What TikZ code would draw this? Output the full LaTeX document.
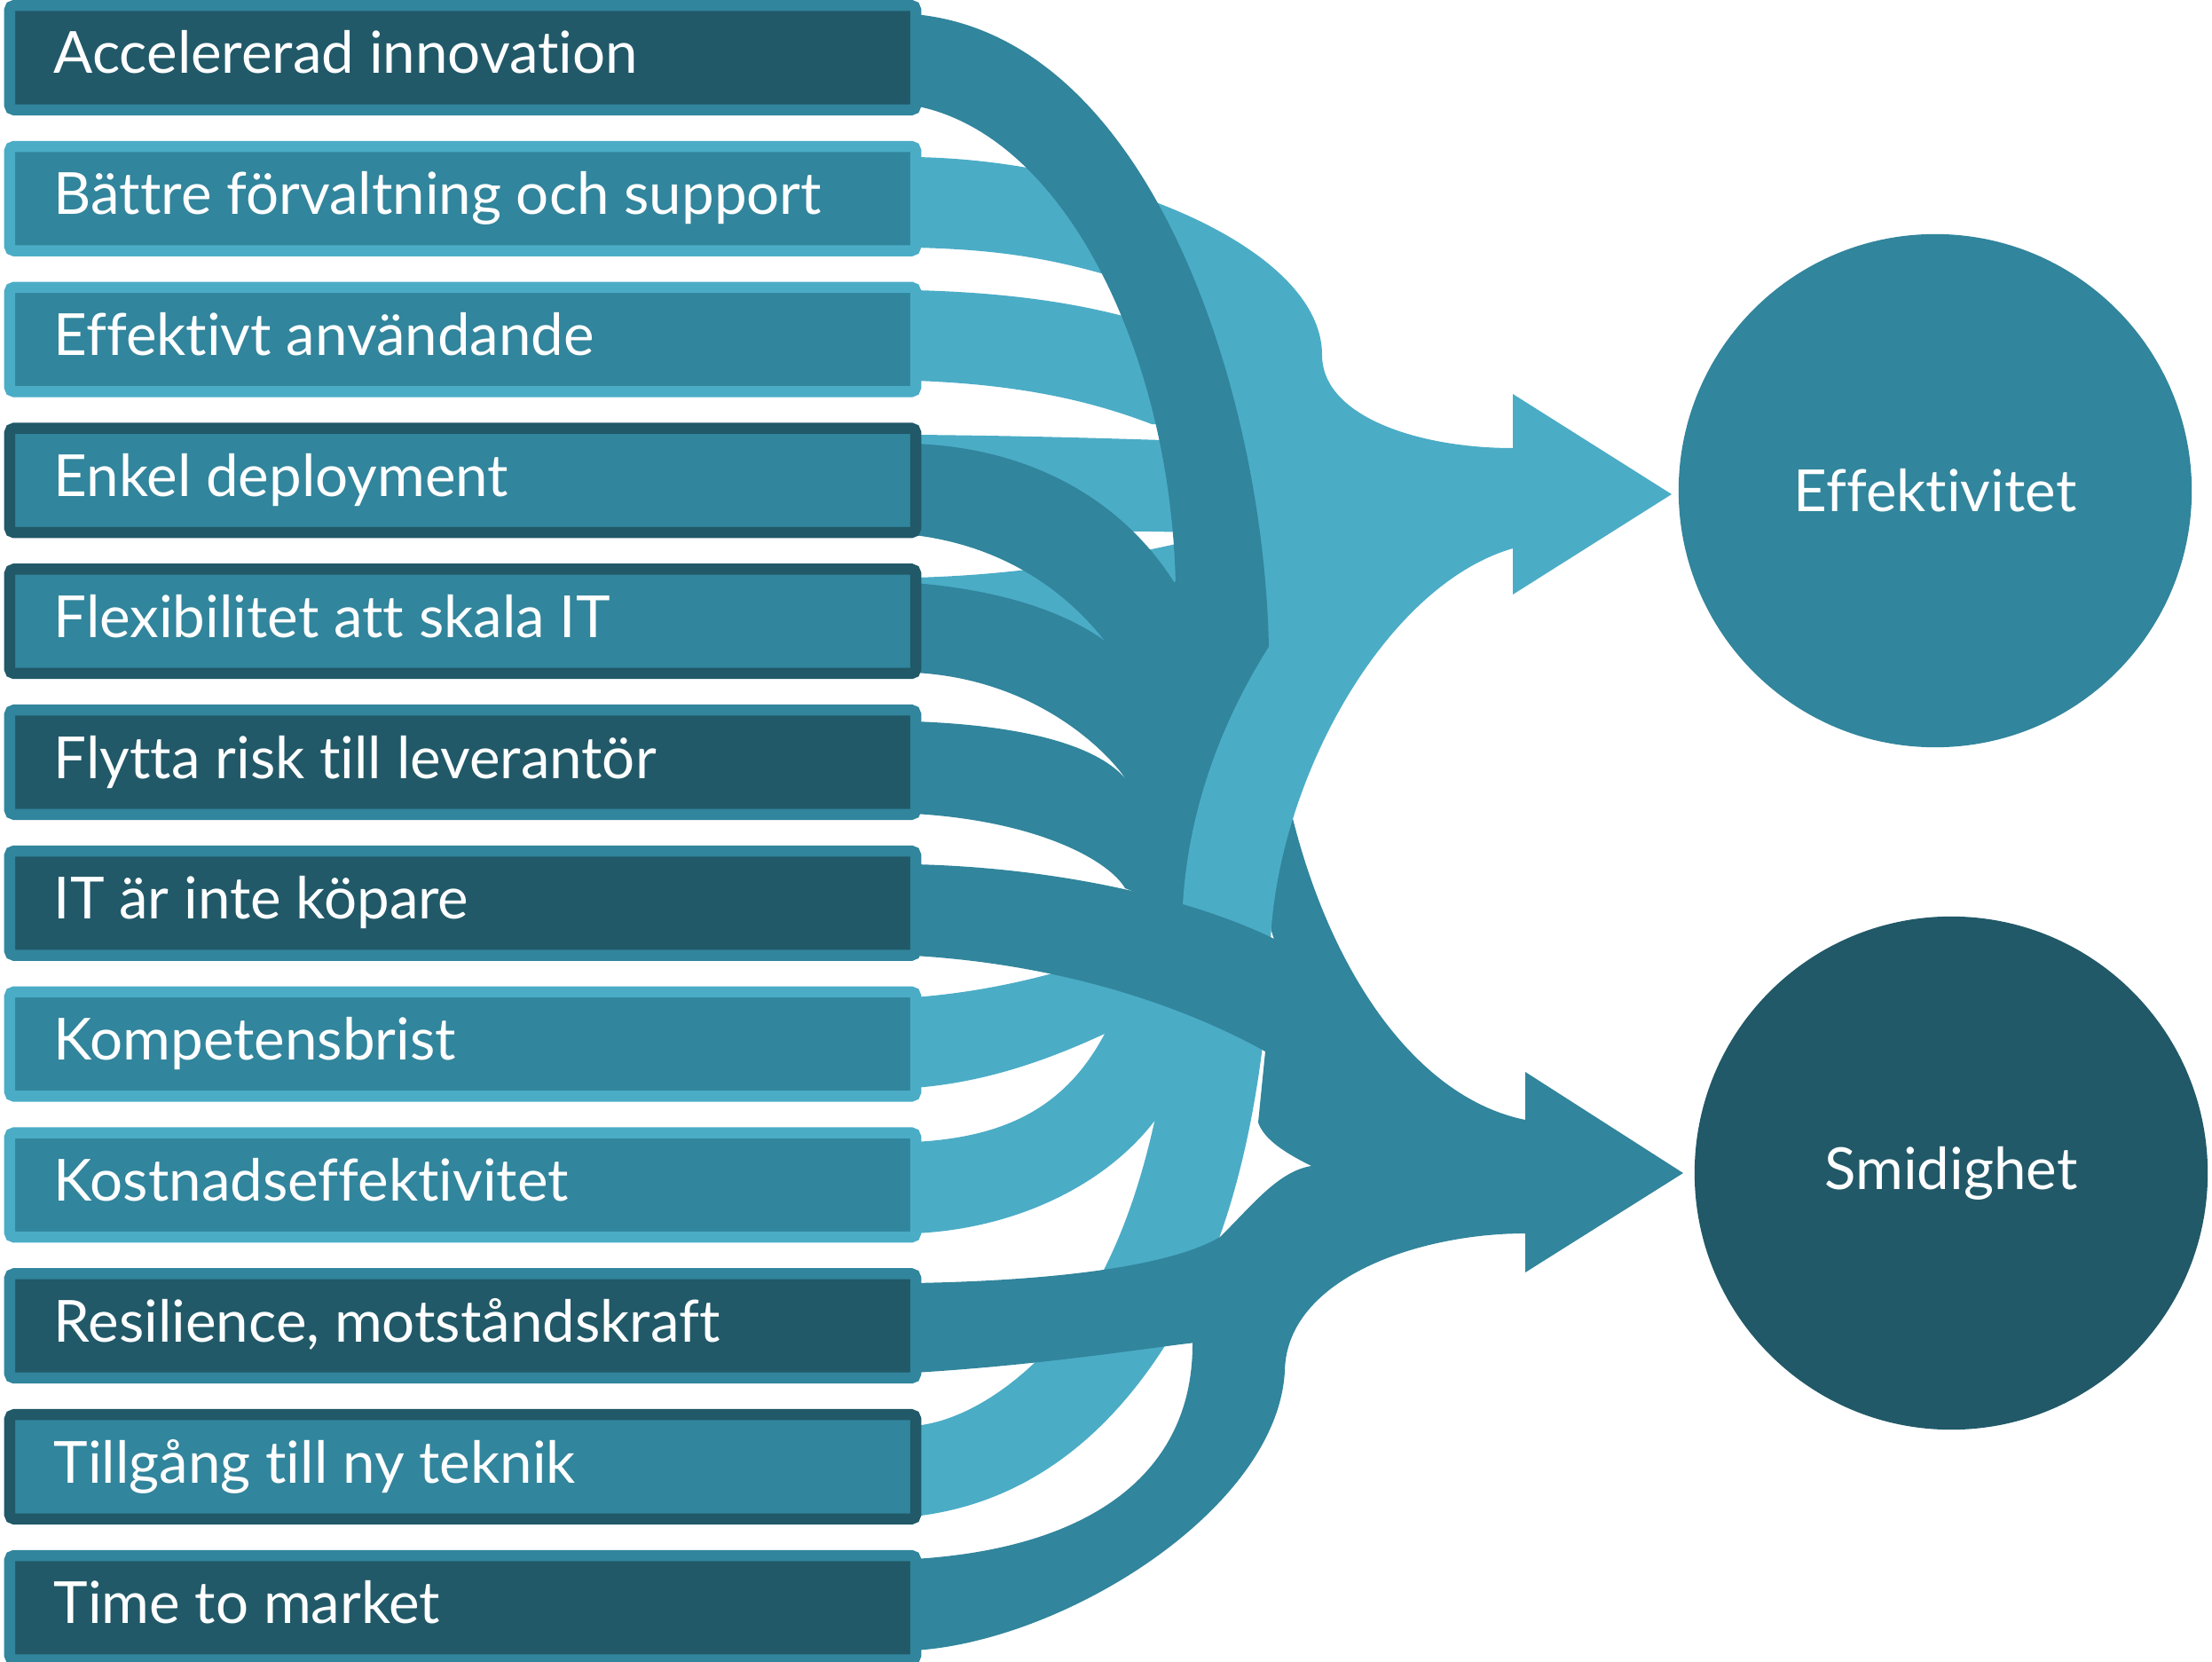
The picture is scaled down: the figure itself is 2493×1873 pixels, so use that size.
\documentclass[tikz,border=0pt]{standalone}
\usepackage{fontspec}
\setmainfont{Lato}[Ligatures=NoCommon]
\definecolor{tdark}{HTML}{215968}
\definecolor{tmid}{HTML}{31859C}
\definecolor{tlight}{HTML}{4BACC6}
\begin{document}
\begin{tikzpicture}[x=0.01cm, y=-0.01cm,
  lightflow/.style={fill=tlight},
  midflow/.style={fill=tmid},
  box/.style 2 args={draw=#1, fill=#2, line width=0.125cm, rounded corners=0.05cm,
    minimum width=10.205cm, minimum height=1.175cm, inner sep=0pt, outer sep=0pt},
  lbl/.style={anchor=base west, inner sep=0pt, text=white, font=\fontsize{18.6}{22}\selectfont},
  goal/.style={circle, fill=#1, minimum size=5.78cm, inner sep=0pt, text=white,
    font=\fontsize{18.6}{22}\selectfont}]
\useasboundingbox (0,0) rectangle (2493,1873);

% ---------- light flows, bottom layer (rows 2-5 into the upper arrow)
\fill[lightflow] (1030,177) .. controls (1250,180) and (1490,280) .. (1490,400)
  .. controls (1490,470) and (1600,505) .. (1705,505) -- (1705,618)
  .. controls (1600,625) and (1500,680) .. (1440,760) -- (1360,640) -- (1300,380)
  -- (1255,312) .. controls (1180,290) and (1120,281) .. (1030,279) -- cycle;
\fill[lightflow] (1030,327) .. controls (1150,330) and (1250,345) .. (1340,380)
  -- (1340,480) -- (1298,478) .. controls (1230,452) and (1150,433) .. (1030,429) -- cycle;
\fill[lightflow] (1030,490) .. controls (1150,491) and (1250,494) .. (1340,497)
  -- (1340,600) .. controls (1250,597) and (1150,600) .. (1030,600) -- cycle;
\fill[lightflow] (1030,651) .. controls (1150,648) and (1250,630) .. (1330,612)
  -- (1345,650) -- (1340,760) -- (1030,745) -- cycle;

% ---------- medium flows, second layer (rows 1, 4, 5, 6)
\fill[midflow] (1030,16) .. controls (1300,40) and (1425,450) .. (1430,730)
  .. controls (1440,1000) and (1560,1230) .. (1719,1262) -- (1719,1300)
  .. controls (1560,1290) and (1460,1180) .. (1420,1000)
  .. controls (1390,880) and (1330,800) .. (1325,660)
  .. controls (1320,400) and (1200,150) .. (1030,119) -- cycle;
\fill[midflow] (1030,500) .. controls (1170,505) and (1270,570) .. (1325,659)
  -- (1380,780) -- (1245,722) .. controls (1200,665) and (1130,615) .. (1030,603) -- cycle;
\fill[midflow] (1030,657) .. controls (1130,665) and (1200,690) .. (1245,722)
  -- (1380,800) -- (1268,877) .. controls (1250,850) and (1170,765) .. (1030,758) -- cycle;
\fill[midflow] (1030,813) .. controls (1170,818) and (1240,845) .. (1268,877)
  -- (1380,950) -- (1268,1001) .. controls (1250,970) and (1170,925) .. (1030,917) -- cycle;
\fill[midflow] (1245,722) -- (1325,655) -- (1432,740) -- (1445,900) -- (1425,1010)
  -- (1340,1030) -- (1268,1001) -- (1268,877) -- cycle;

% ---------- light band rising from rows 8, 9 and 11
\fill[lightflow] (1030,1709) .. controls (1200,1690) and (1300,1560) .. (1360,1430)
  .. controls (1400,1340) and (1428,1200) .. (1432,1060)
  .. controls (1440,880) and (1560,660) .. (1705,618) -- (1705,560) -- (1430,729)
  .. controls (1385,800) and (1340,900) .. (1333,1020)
  .. controls (1325,1130) and (1310,1300) .. (1245,1429)
  .. controls (1200,1520) and (1110,1600) .. (1030,1607) -- cycle;
\fill[lightflow] (1030,1124) .. controls (1150,1115) and (1250,1080) .. (1320,1050)
  -- (1345,1200) -- (1245,1165) .. controls (1180,1195) and (1110,1220) .. (1030,1226) -- cycle;
\fill[lightflow] (1030,1287) .. controls (1130,1282) and (1200,1250) .. (1245,1165)
  -- (1345,1140) -- (1314,1245) .. controls (1260,1330) and (1150,1385) .. (1030,1390) -- cycle;

% ---------- medium flows, top layer (rows 7, 12, 10)
\fill[midflow] (1030,974) .. controls (1200,978) and (1350,1015) .. (1440,1060)
  -- (1560,1200) -- (1719,1280) -- (1719,1340)
  .. controls (1600,1330) and (1510,1330) .. (1478,1314)
  .. controls (1450,1300) and (1425,1285) .. (1418,1265) -- (1426,1185)
  .. controls (1390,1165) and (1250,1090) .. (1030,1077) -- cycle;
\fill[midflow] (1030,1860) .. controls (1200,1850) and (1440,1700) .. (1448,1545)
  .. controls (1450,1440) and (1600,1390) .. (1719,1390) -- (1719,1320) -- (1490,1345)
  .. controls (1400,1370) and (1344,1440) .. (1344,1515)
  .. controls (1344,1660) and (1230,1745) .. (1030,1757) -- cycle;
\fill[midflow] (1030,1446) .. controls (1250,1442) and (1340,1415) .. (1375,1394)
  .. controls (1410,1360) and (1440,1320) .. (1478,1314) -- (1719,1300) -- (1719,1370)
  .. controls (1550,1375) and (1420,1460) .. (1348,1513)
  .. controls (1300,1518) and (1180,1538) .. (1030,1547) -- cycle;

% ---------- arrow heads
\fill[lightflow] (1705,444) -- (1884,557) -- (1705,670) -- cycle;
\fill[midflow] (1719,1208) -- (1897,1322) -- (1719,1434) -- cycle;

% ---------- factor boxes
\foreach \i/\bd/\fl/\txt in {
  1/tmid/tdark/{Accelererad innovation},
  2/tlight/tmid/{Bättre förvaltning och support},
  3/tlight/tmid/{Effektivt användande},
  4/tdark/tmid/{Enkel deployment},
  5/tdark/tmid/{Flexibilitet att skala IT},
  6/tmid/tdark/{Flytta risk till leverantör},
  7/tmid/tdark/{IT är inte köpare},
  8/tlight/tmid/{Kompetensbrist},
  9/tlight/tmid/{Kostnadseffektivitet},
  10/tmid/tdark/{Resilience, motståndskraft},
  11/tdark/tmid/{Tillgång till ny teknik},
  12/tmid/tdark/{Time to market}}{
  \pgfmathsetmacro{\top}{158.8*(\i-1)}
  \node[box={\bd}{\fl}] (b\i) at (521.5,\top+65) {};
  \node[lbl] (t\i) at (60,\top+83) {\txt};
}

% ---------- outcome circles
\node[goal=tmid] (eff) at (2181,553) {Effektivitet};
\node[goal=tdark] (smi) at (2199,1322) {Smidighet};
\end{tikzpicture}
\end{document}
